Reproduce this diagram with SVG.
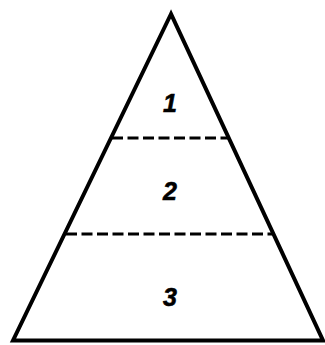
<svg xmlns="http://www.w3.org/2000/svg" width="325" height="345" viewBox="0 0 325 345">
<style>
.edge{fill:none;stroke:#000;stroke-width:4;stroke-linejoin:miter;stroke-miterlimit:10}
.dash{stroke:#000;stroke-width:3.2;stroke-dasharray:11 4.5}
.lbl{font-family:"Liberation Sans",Arial,sans-serif;font-weight:bold;font-style:italic;font-size:25px;text-anchor:middle;fill:#000;stroke:#000;stroke-width:0.6}
</style>
<rect width="325" height="345" fill="#fff"/>
<g id="connectors">
<polygon class="edge" points="171,14 13,340.5 323,340.5"/>
<line class="dash" x1="112" y1="138" x2="228" y2="138"/>
<line class="dash" x1="66" y1="234" x2="272" y2="234"/>
</g>
<g id="level1"><text class="lbl" x="170" y="112">1</text></g>
<g id="level2"><text class="lbl" x="170" y="200">2</text></g>
<g id="level3"><text class="lbl" x="170" y="306">3</text></g>
</svg>
